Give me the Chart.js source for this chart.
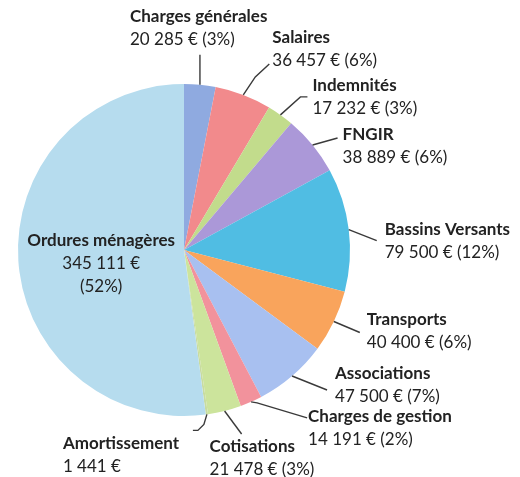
<!DOCTYPE html>
<html>
<head>
<meta charset="utf-8">
<script src="https://cdn.jsdelivr.net/npm/chart.js@4"></script>
<style>
  html, body { margin: 0; padding: 0; background: #fff; }
  #wrap { width: 520px; height: 477px; }
</style>
</head>
<body>
<div id="wrap"><canvas id="pieChart" width="520" height="477"></canvas></div>
<script>
const categories = ['Charges générales', 'Salaires', 'Indemnités', 'FNGIR', 'Bassins Versants',
    'Transports', 'Associations', 'Charges de gestion', 'Cotisations', 'Amortissement', 'Ordures ménagères'];
const amounts = [20285, 36457, 17232, 38889, 79500, 40400, 47500, 14191, 21478, 1441, 345111];
const sliceColors = ['#8faae0', '#f28a8c', '#c2dc8c', '#ab98d8', '#50bde3', '#f9a45c',
    '#a8c0f0', '#f2929c', '#cce49c', '#c8dca0', '#b6dcee'];

// label placement relative to the slice's outer edge (mid angle)
const labelLayout = [
    { line: [[0, -30]], dx: -70, dy: -68 },
    { line: [[12, -18], [26, -31]], dx: 29, dy: -57 },
    { line: [[20, -18], [27, -18]], dx: 32, dy: -29 },
    { line: [[25, -7]], dx: 30, dy: -10 },
    { line: [[28, 11]], dx: 36, dy: 0 },
    { line: [[26, 11]], dx: 33, dy: -2 },
    { line: [[35, 14]], dx: 43, dy: -3 },
    { line: [[6, 1], [56, 16]], dx: 57, dy: 15 },
    { line: [[17, 23]], dx: -15, dy: 36 },
    { line: [[-3, 10], [-9, 16], [-14, 16]], dx: -144, dy: 29, noPct: true },
    { inside: true }
];

const FONT = 'Lato, "Open Sans", sans-serif';

function fmt(v) {
    return String(v).replace(/\B(?=(\d{3})+(?!\d))/g, ' ') + ' €';
}

const labelPlugin = {
    id: 'pieLabels',
    afterDatasetsDraw(chart) {
        const ctx = chart.ctx;
        const meta = chart.getDatasetMeta(0);
        const total = amounts.reduce((a, b) => a + b, 0);
        ctx.save();
        ctx.textBaseline = 'middle';
        meta.data.forEach((arc, i) => {
            const lay = labelLayout[i];
            const p = arc.getProps(['x', 'y', 'startAngle', 'endAngle', 'outerRadius'], true);
            const mid = (p.startAngle + p.endAngle) / 2;
            const pct = Math.round(amounts[i] / total * 100);
            if (lay.inside) {
                const cx = p.x + Math.cos(mid) * p.outerRadius * 0.5;
                const cy = p.y + Math.sin(mid) * p.outerRadius * 0.5 + 8;
                ctx.textAlign = 'center';
                ctx.fillStyle = '#222';
                ctx.font = 'bold 17px ' + FONT;
                ctx.fillText(categories[i], cx, cy - 23);
                ctx.font = '17px ' + FONT;
                ctx.fillText(fmt(amounts[i]), cx, cy);
                ctx.fillText('(' + pct + '%)', cx, cy + 23);
                return;
            }
            const ax = p.x + Math.cos(mid) * p.outerRadius;
            const ay = p.y + Math.sin(mid) * p.outerRadius;
            ctx.strokeStyle = '#3a3a3a';
            ctx.lineWidth = 1.4;
            ctx.beginPath();
            ctx.moveTo(ax, ay);
            lay.line.forEach(pt => ctx.lineTo(ax + pt[0], ay + pt[1]));
            ctx.stroke();
            const tx = ax + lay.dx;
            const ty = ay + lay.dy;
            ctx.textAlign = 'left';
            ctx.fillStyle = '#222';
            ctx.font = 'bold 17px ' + FONT;
            ctx.fillText(categories[i], tx, ty);
            ctx.font = '17px ' + FONT;
            ctx.fillText(fmt(amounts[i]) + (lay.noPct ? '' : ' (' + pct + '%)'), tx, ty + 23);
        });
        ctx.restore();
    }
};

new Chart(document.getElementById('pieChart'), {
    type: 'pie',
    data: {
        labels: categories,
        datasets: [{
            data: amounts,
            backgroundColor: sliceColors,
            borderWidth: 0,
            hoverOffset: 0
        }]
    },
    options: {
        responsive: false,
        animation: false,
        events: [],
        layout: { padding: { left: 18, right: 170, top: 84, bottom: 61 } },
        plugins: {
            legend: { display: false },
            tooltip: { enabled: false }
        }
    },
    plugins: [labelPlugin]
});
</script>
</body>
</html>
